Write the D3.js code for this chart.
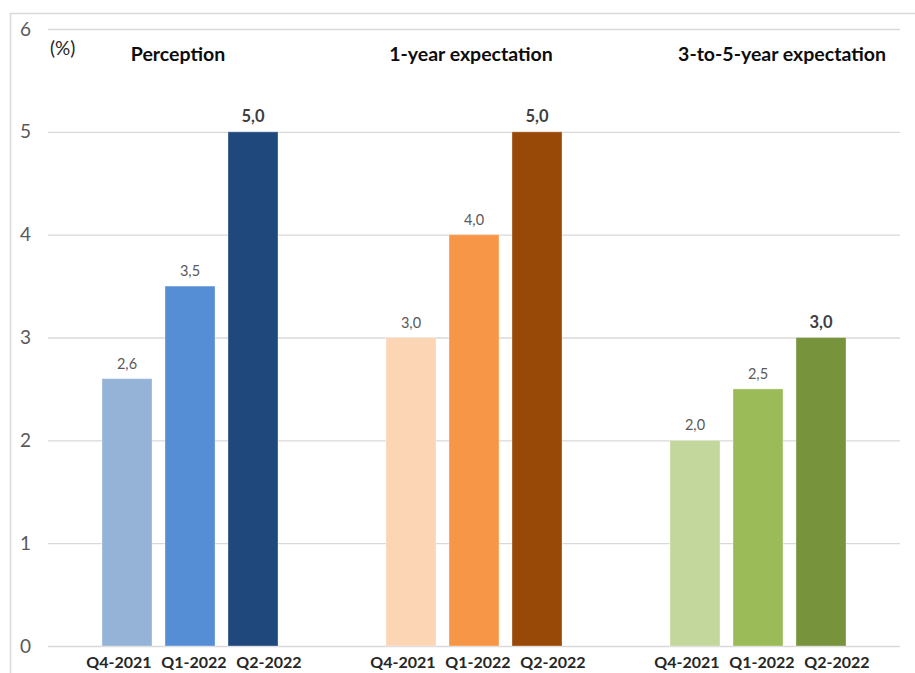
<!DOCTYPE html>
<html><head><meta charset="utf-8">
<script src="https://cdn.jsdelivr.net/npm/d3@7"></script>
<style>
html,body{margin:0;padding:0;background:#fff;}
svg{display:block;font-family:Lato,"Open Sans",sans-serif;}
</style></head>
<body>
<svg id="chart" width="915" height="673"></svg>
<script>
const groups = ["Perception", "1-year expectation", "3-to-5-year expectation"];
const quarters = ["Q4-2021", "Q1-2022", "Q2-2022"];
const perception = [2.6, 3.5, 5.0];
const oneYear = [3.0, 4.0, 5.0];
const threeToFive = [2.0, 2.5, 3.0];
const yTicks = [0, 1, 2, 3, 4, 5, 6];
const colors = [
  ["#95B3D7", "#558ED5", "#1F497D"],
  ["#FCD5B5", "#F79646", "#984807"],
  ["#C3D69B", "#9BBB59", "#77933C"]
];
const series = [perception, oneYear, threeToFive];

(function () {
const svg = d3.select("#chart");
const W = 915, H = 673;
const mLeft = 48, mRight = 900, mTop = 29, mBottom = 646;

// frame
svg.append("line").attr("x1", 10).attr("x2", W).attr("y1", 13.5).attr("y2", 13.5).attr("stroke", "#D9D9D9").attr("stroke-width", 1.5);
svg.append("line").attr("x1", 10.5).attr("x2", 10.5).attr("y1", 13).attr("y2", H).attr("stroke", "#D9D9D9").attr("stroke-width", 1.5);

const y = d3.scaleLinear().domain([0, 6]).range([mBottom, mTop]);
const gx = d3.scaleBand().domain(groups).range([mLeft, mRight]);
const ix = d3.scaleBand().domain(quarters).range([-94.5, 94.5]).paddingInner(0.206).paddingOuter(0.103);
const lx = d3.scalePoint().domain(quarters).range([-71, 79]);

// gridlines
const yAxis = d3.axisLeft(y).tickValues(yTicks).tickSize(-(mRight - mLeft)).tickFormat(d3.format("d"));
const ya = svg.append("g").attr("transform", `translate(${mLeft},0)`).call(yAxis);
ya.select(".domain").remove();
ya.selectAll(".tick line").attr("stroke", "#D9D9D9").attr("stroke-width", 1.3);
ya.selectAll(".tick text").attr("x", -17).attr("dy", "0.32em").attr("fill", "#595959")
  .style("font-size", "19px").style("font-family", "Lato, sans-serif").attr("text-anchor", "end");

// bars
groups.forEach((g, gi) => {
  const cx = gx(g) + gx.bandwidth() / 2;
  const gg = svg.append("g").attr("transform", `translate(${cx},0)`);
  const data = quarters.map((q, qi) => ({ q, qi, v: series[gi][qi] }));
  gg.selectAll("rect").data(data).enter().append("rect")
    .attr("x", d => ix(d.q))
    .attr("width", ix.bandwidth())
    .attr("y", d => y(d.v))
    .attr("height", d => y(0) - y(d.v))
    .attr("fill", d => colors[gi][d.qi])
    .attr("stroke", "#fff").attr("stroke-opacity", 0.35).attr("stroke-width", 1);
  gg.selectAll("text.val").data(data).enter().append("text")
    .attr("class", "val")
    .attr("x", d => ix(d.q) + ix.bandwidth() / 2)
    .attr("y", d => y(d.v) - 10)
    .attr("text-anchor", "middle")
    .attr("fill", d => d.qi === 2 ? "#404040" : "#595959")
    .style("font-size", d => d.qi === 2 ? "16.5px" : "14.5px")
    .style("font-weight", d => d.qi === 2 ? "bold" : "normal")
    .text(d => d3.format(".1f")(d.v).replace(".", ","));
  gg.selectAll("text.cat").data(data).enter().append("text")
    .attr("class", "cat")
    .attr("x", d => lx(d.q))
    .attr("y", 668)
    .attr("text-anchor", "middle")
    .attr("fill", "#262626")
    .style("font-size", "16px").style("font-weight", "bold")
    .text(d => d.q);
});

// group titles
const titleOffsets = [-12, -3, 24];
groups.forEach((g, gi) => {
  svg.append("text")
    .attr("x", gx(g) + gx.bandwidth() / 2 + titleOffsets[gi])
    .attr("y", 61)
    .attr("text-anchor", "middle")
    .attr("fill", "#0d0d0d")
    .style("font-size", "19.5px").style("font-weight", "bold")
    .text(g);
});

svg.append("text").attr("x", 50).attr("y", 55).attr("fill", "#262626")
  .style("font-size", "19px").text("(%)");
})();
</script>
</body></html>
